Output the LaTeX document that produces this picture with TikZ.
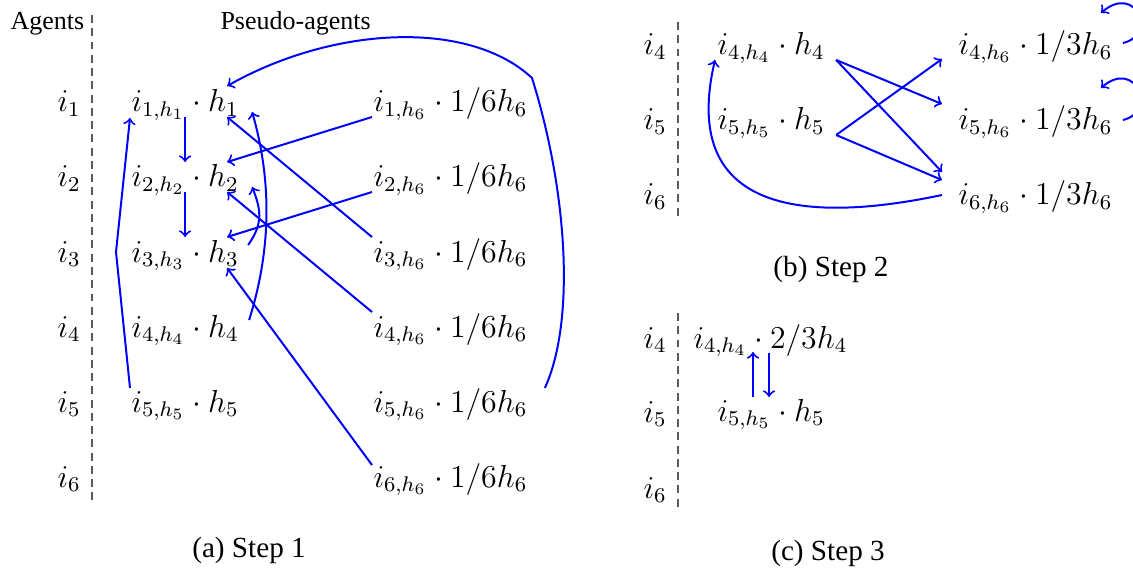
\documentclass[tikz,border=0pt]{standalone}
\usepackage{fontspec}
\setmainfont{Liberation Serif}
\usetikzlibrary{calc}
\begin{document}
\begin{tikzpicture}[x=0.377pt,y=-0.377pt,
  lab/.style={inner sep=0pt, anchor=base west, font=\fontsize{12}{14}\selectfont},
  txt/.style={inner sep=0pt, anchor=base west, font=\fontsize{9.8}{11}\selectfont},
  captionstyle/.style={inner sep=0pt, anchor=base, font=\fontsize{11}{13}\selectfont},
  sep/.style={black!65, dash pattern=on 3pt off 2pt, line width=0.45pt},
  arr/.style={blue, line width=0.75pt, ->},
]
\useasboundingbox (0,0) rectangle (1133,571);

% ---------- panel (a)
\node[txt] (agents) at (10,30) {Agents};
\node[txt] (pseudo) at (220,30) {Pseudo-agents};
\coordinate (sa1) at (92,15); \coordinate (sa2) at (92,505);
\draw[sep] (sa1) -- (sa2);
\foreach \k in {1,...,6} \node[lab] (a\k) at (57,{112+75*(\k-1)}) {$i_{\k}$};
\foreach \k in {1,...,5} \node[lab] (L\k) at (131,{112+75*(\k-1)}) {$i_{\k,h_{\k}}\cdot h_{\k}$};
\foreach \k in {1,...,6} \node[lab] (R\k) at (373,{112+75*(\k-1)}) {$i_{\k,h_6}\cdot 1/6h_6$};

\coordinate (kink) at (116,252);
\draw[arr] ($(L5.base west)+(-1,-24)$) -- (kink) -- ($(L1.base west)+(-1,6)$);
\draw[arr] ($(L1.base)+(0,5)$) -- ($(L2.base)+(0,-25)$);
\draw[arr] ($(L2.base)+(0,5)$) -- ($(L3.base)+(0,-25)$);
\draw[arr] ($(R1.base west)+(-1,5)$) -- ($(L2.base east)+(-12,-25)$);
\draw[arr] ($(R2.base west)+(-1,5)$) -- ($(L3.base east)+(-12,-25)$);
\draw[arr] ($(R3.base west)+(-1,-25)$) -- ($(L1.base east)+(-12,5)$);
\draw[arr] ($(R4.base west)+(-1,-25)$) -- ($(L2.base east)+(-12,5)$);
\draw[arr] ($(R6.base west)+(-1,-22)$) -- ($(L3.base east)+(-12,6)$);
\draw[arr] ($(L4.base east)+(10,-17)$) .. controls +(22,-70) and +(20,70) .. ($(L1.base east)+(13,0)$);
\draw[arr] ($(L3.base east)+(9,-17)$) .. controls +(14,-20) and +(10,25) .. ($(L2.base east)+(13,0)$);
\coordinate (top) at (532,78);
\draw[arr] ($(R5.base east)+(17,-24)$) .. controls +(31,-68) and +(35,112) .. (top)
   .. controls +(-62,-58) and +(108,-61) .. ($(L1.base east)+(-12,-26)$);
\node[captionstyle] (capa) at (249,557) {(a) Step 1};

% ---------- panel (b)
\coordinate (sb1) at (678,22); \coordinate (sb2) at (678,218);
\draw[sep] (sb1) -- (sb2);
\node[lab] (b4) at (643,55) {$i_4$};
\node[lab] (b5) at (643,130) {$i_5$};
\node[lab] (b6) at (643,205) {$i_6$};
\node[lab] (B4) at (717,55) {$i_{4,h_4}\cdot h_4$};
\node[lab] (B5) at (717,130) {$i_{5,h_5}\cdot h_5$};
\node[lab] (C4) at (958,55) {$i_{4,h_6}\cdot 1/3h_6$};
\node[lab] (C5) at (958,130) {$i_{5,h_6}\cdot 1/3h_6$};
\node[lab] (C6) at (958,205) {$i_{6,h_6}\cdot 1/3h_6$};
\draw[arr] ($(B4.base east)+(11,5)$) -- ($(C5.base west)+(-16,-26)$);
\draw[arr] ($(B4.base east)+(11,5)$) -- ($(C6.base west)+(-16,-33)$);
\draw[arr] ($(B5.base east)+(11,5)$) -- ($(C4.base west)+(-16,4)$);
\draw[arr] ($(B5.base east)+(11,5)$) -- ($(C6.base west)+(-16,-25)$);
\draw[arr] ($(C6.base west)+(-16,-10)$) .. controls +(-142,30) and +(-35,150) .. ($(B4.base west)+(-2,5)$);
\draw[arr] ($(C4.base east)+(10,-12)$) .. controls +(35,-8) and +(35,-30) .. ($(C4.base east)+(-12,-42)$);
\draw[arr] ($(C5.base east)+(10,-10)$) .. controls +(35,-8) and +(35,-30) .. ($(C5.base east)+(-12,-42)$);
\node[captionstyle] (capb) at (831,276) {(b) Step 2};

% ---------- panel (c)
\coordinate (sc1) at (678,313); \coordinate (sc2) at (678,510);
\draw[sep] (sc1) -- (sc2);
\node[lab] (c4) at (643,348) {$i_4$};
\node[lab] (c5) at (643,422) {$i_5$};
\node[lab] (c6) at (643,498) {$i_6$};
\node[lab] (D4) at (693,348) {$i_{4,h_4}\cdot 2/3h_4$};
\node[lab] (D5) at (717,421) {$i_{5,h_5}\cdot h_5$};
\draw[arr] ($(D5.base west)+(36,-24)$) -- ($(D4.base west)+(60,4)$);
\draw[arr] ($(D4.base west)+(76,5)$) -- ($(D5.base west)+(52,-24)$);
\node[captionstyle] (capc) at (828,560) {(c) Step 3};
\end{tikzpicture}
\end{document}
